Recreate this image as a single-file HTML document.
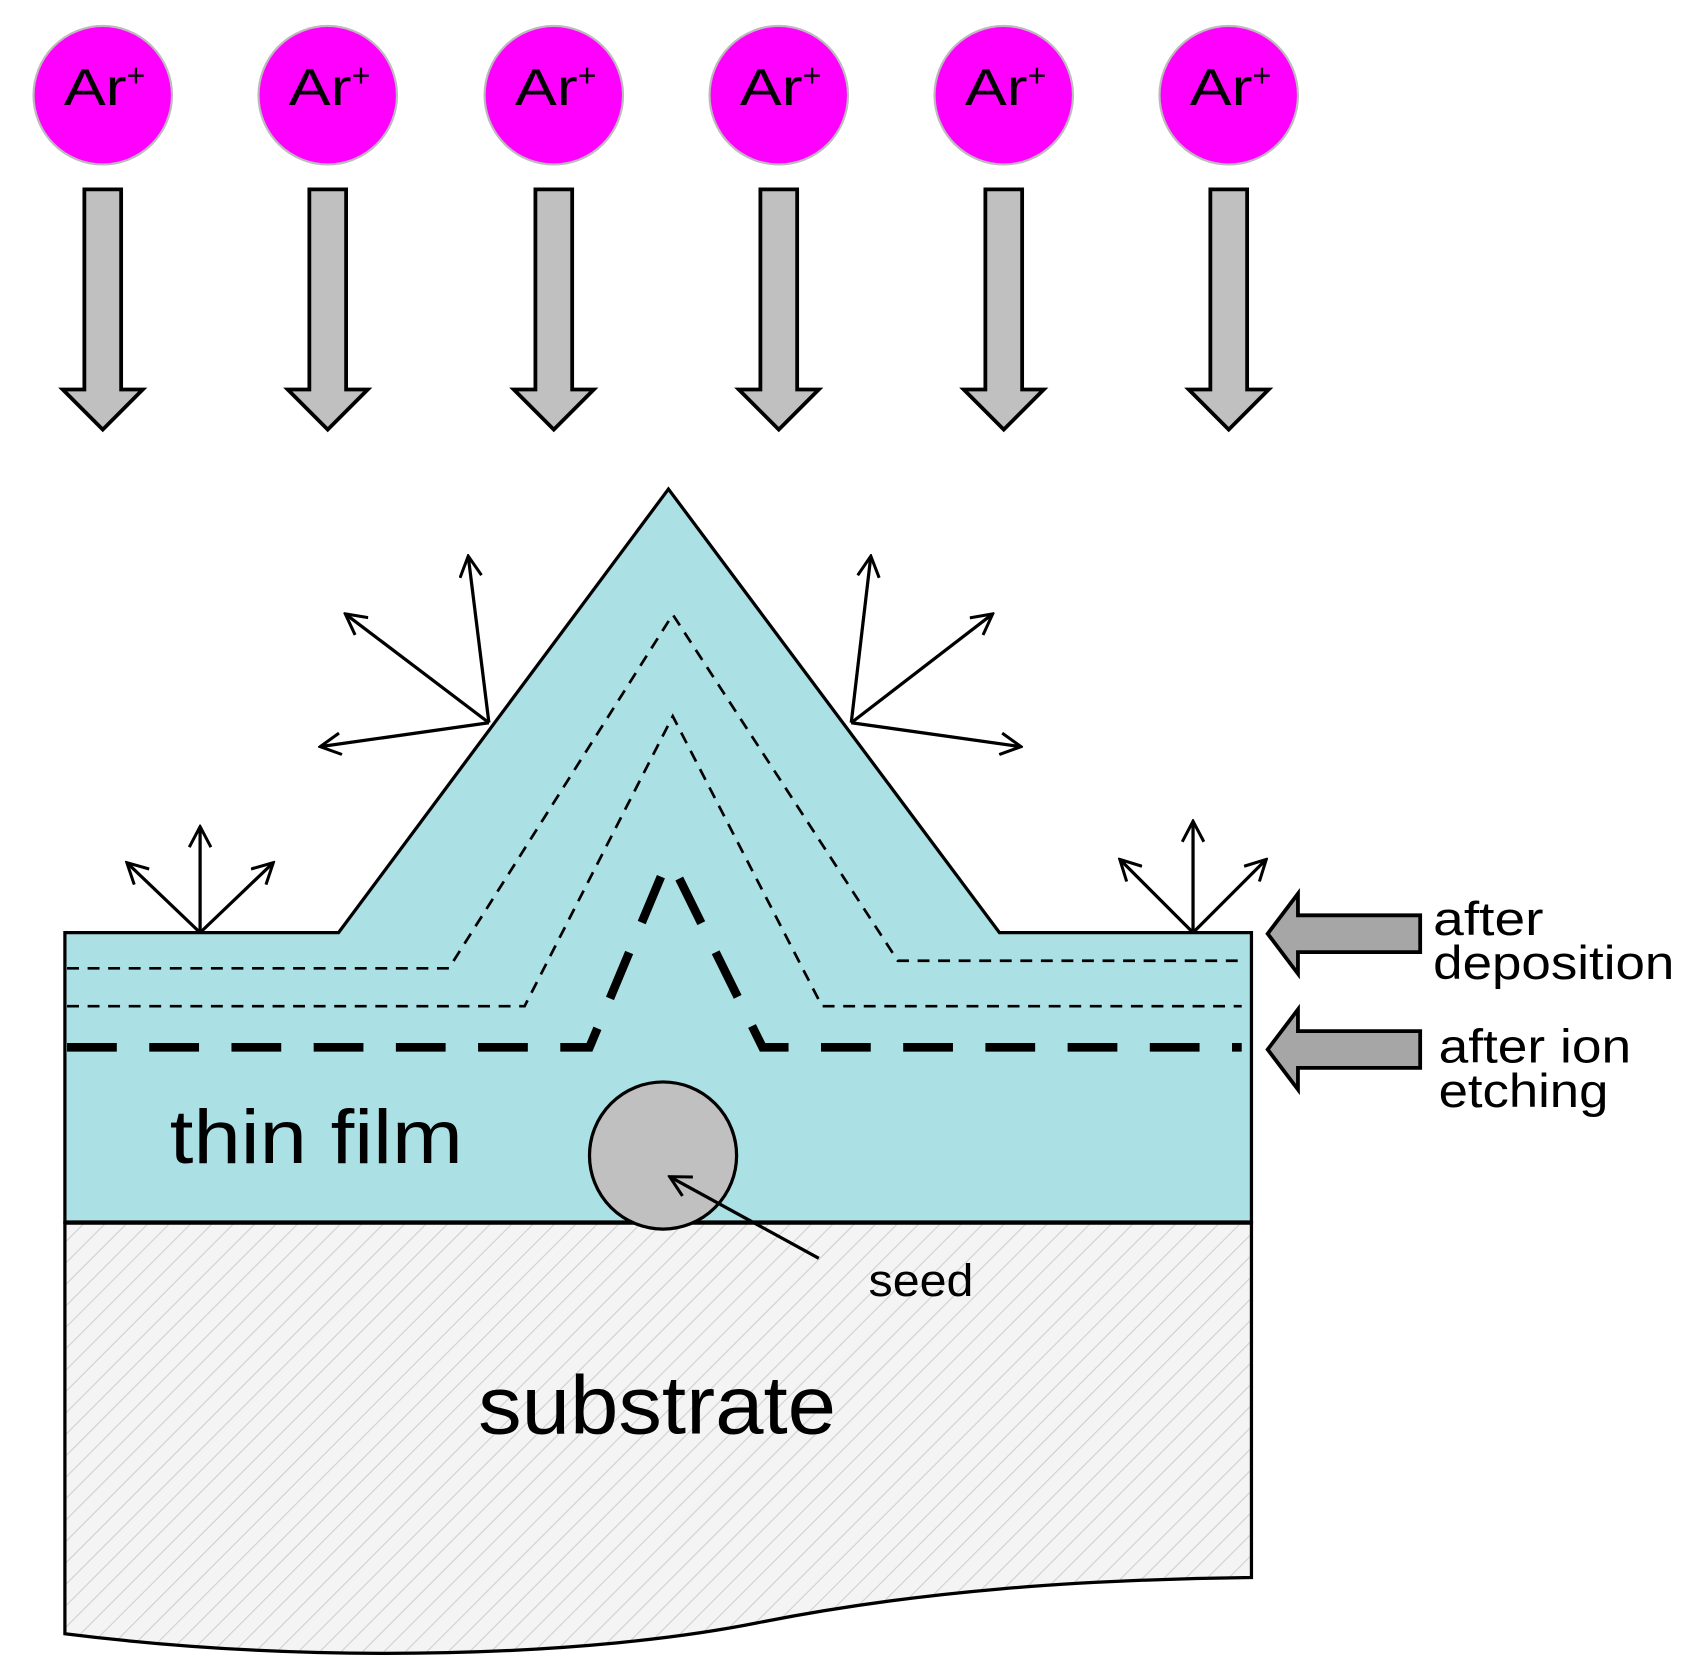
<!DOCTYPE html>
<html><head><style>html,body{margin:0;padding:0;background:#fff}svg{display:block}</style></head>
<body>
<svg width="1696" height="1677" viewBox="0 0 1568 1550" preserveAspectRatio="none" xmlns="http://www.w3.org/2000/svg">
<defs>
<pattern id="h" width="14" height="14" patternUnits="userSpaceOnUse" patternTransform="rotate(45)">
<rect width="14" height="14" fill="#f4f4f4"/><line x1="0" y1="0" x2="0" y2="14" stroke="#cfcfcf" stroke-width="2"/>
</pattern>
<marker id="a" markerWidth="22" markerHeight="22" refX="19" refY="11" orient="auto" markerUnits="userSpaceOnUse" viewBox="0 0 22 22">
<path d="M1,1 L20,11 L1,21" fill="none" stroke="#000" stroke-width="2.8"/>
</marker>
<g id="ion"><circle cx="0" cy="88" r="64" fill="#ff00ff" stroke="#bbb" stroke-width="2"/>
<text x="-36" y="97" font-family="Liberation Sans, sans-serif" font-size="48" textLength="58" lengthAdjust="spacingAndGlyphs">Ar</text>
<text x="22" y="80" font-family="Liberation Sans, sans-serif" font-size="30">+</text>
<path d="M-17,175 H17 V360 H37 L0,397 L-37,360 H-17 Z" fill="#c0c0c0" stroke="#000" stroke-width="3.5" stroke-linejoin="miter"/></g>
</defs>
<use href="#ion" x="95"/><use href="#ion" x="303"/><use href="#ion" x="512"/><use href="#ion" x="720"/><use href="#ion" x="928"/><use href="#ion" x="1136"/>
<path d="M60,1130 H1157 V1458 C1000,1460 850,1470 700,1500 C550,1530 300,1540 60,1510 Z" fill="url(#h)" stroke="#000" stroke-width="3"/>
<path d="M60,1130 V862 H313 L618,452 L924,862 H1157 V1130 Z" fill="#abe0e4" stroke="#000" stroke-width="3"/>
<line x1="60" y1="1130" x2="1157" y2="1130" stroke="#000" stroke-width="4"/>
<g fill="none" stroke="#000">
<path d="M62,895 H415 L622,568 L830,888 H1148" stroke-width="2.5" stroke-dasharray="11,8"/>
<path d="M62,930 H485 L622,662 L760,930 H1148" stroke-width="2.5" stroke-dasharray="11,8"/>
<path d="M62,968 H545 L612,808" stroke-width="8" stroke-dasharray="46,30"/>
<path d="M628,812 L705,968 H1148" stroke-width="8" stroke-dasharray="46,30"/>
</g>
<circle cx="613" cy="1068" r="68" fill="#c0c0c0" stroke="#000" stroke-width="3"/>
<g stroke="#000" stroke-width="3" fill="none" marker-end="url(#a)">
<line x1="757" y1="1163" x2="620" y2="1088"/>
<line x1="452" y1="668" x2="433" y2="515"/><line x1="452" y1="668" x2="320" y2="568"/><line x1="452" y1="668" x2="297" y2="690"/>
<line x1="787" y1="668" x2="805" y2="515"/><line x1="787" y1="668" x2="917" y2="568"/><line x1="787" y1="668" x2="943" y2="690"/>
<line x1="185" y1="862" x2="185" y2="765"/><line x1="185" y1="862" x2="118" y2="798"/><line x1="185" y1="862" x2="252" y2="798"/>
<line x1="1103" y1="862" x2="1103" y2="760"/><line x1="1103" y1="862" x2="1036" y2="795"/><line x1="1103" y1="862" x2="1170" y2="795"/>
</g>
<g fill="#a6a6a6" stroke="#000" stroke-width="3.5">
<path d="M1313,846 V880 H1200 V900 L1172,863 L1200,826 V846 Z"/>
<path d="M1313,953 V987 H1200 V1007 L1172,970 L1200,933 V953 Z"/>
</g>
<g font-family="Liberation Sans, DejaVu Sans, sans-serif" fill="#000" lengthAdjust="spacingAndGlyphs">
<text x="1325" y="864" font-size="44" textLength="102" lengthAdjust="spacingAndGlyphs">after</text>
<text x="1325" y="905" font-size="44" textLength="223" lengthAdjust="spacingAndGlyphs">deposition</text>
<text x="1330" y="982" font-size="44" textLength="178" lengthAdjust="spacingAndGlyphs">after ion</text>
<text x="1330" y="1023" font-size="44" textLength="157" lengthAdjust="spacingAndGlyphs">etching</text>
<text x="803" y="1198" font-size="42" textLength="97" lengthAdjust="spacingAndGlyphs">seed</text>
<text x="157" y="1075" font-size="70" textLength="271" lengthAdjust="spacingAndGlyphs">thin film</text>
<text x="442" y="1325" font-size="76" textLength="331" lengthAdjust="spacingAndGlyphs">substrate</text>
</g>
</svg>
</body></html>
